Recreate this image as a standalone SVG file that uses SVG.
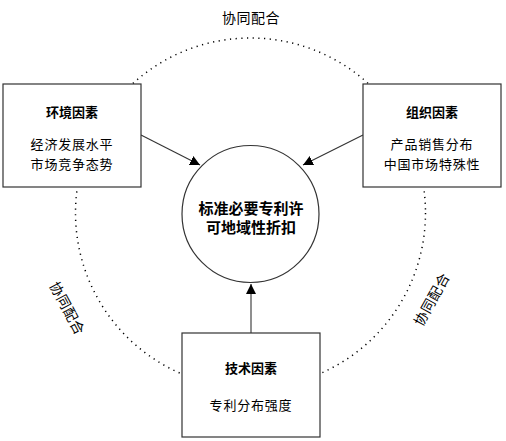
<svg xmlns="http://www.w3.org/2000/svg" width="506" height="441" viewBox="0 0 506 441">
<style>
text{font-family:"Noto Sans CJK SC","Liberation Sans",sans-serif;fill:#000;text-anchor:middle;dominant-baseline:central}
.t{font-size:13px;font-weight:bold}
.b{font-size:13px;letter-spacing:0.8px}
.c{font-size:15px;font-weight:bold}
.l{font-size:14px;letter-spacing:0.5px}
.box{fill:#fff;stroke:#333;stroke-width:1.2}
.con{stroke:#333;stroke-width:1.1;fill:none;marker-end:url(#ah)}
</style>
<defs>
<marker id="ah" viewBox="0 0 10 10" refX="10" refY="5" markerWidth="10" markerHeight="10" markerUnits="userSpaceOnUse" orient="auto">
<path d="M0,0 L10,5 L0,10 z" fill="#000"/>
</marker>
</defs>
<rect width="506" height="441" fill="#fff"/>
<g id="synergy">
<circle cx="250.5" cy="213" r="175" fill="none" stroke="#000" stroke-width="1.5" stroke-dasharray="1.2 4.5"/>
<text class="l" x="251" y="17">协同配合</text>
<text class="l" transform="translate(68,308) rotate(62)">协同配合</text>
<text class="l" transform="translate(431,299) rotate(-61)">协同配合</text>
</g>
<g id="connectors">
<line class="con" x1="141" y1="135" x2="200" y2="165"/>
<line class="con" x1="363" y1="135" x2="303" y2="165"/>
<line class="con" x1="251" y1="333" x2="251" y2="284"/>
</g>
<g id="center">
<circle cx="250.5" cy="214" r="68.5" fill="#fff" stroke="#333" stroke-width="1.2"/>
<text class="c" x="251" y="207">标准必要专利许</text>
<text class="c" x="251" y="226">可地域性折扣</text>
</g>
<g id="env">
<rect class="box" x="3" y="84" width="138" height="103"/>
<text class="t" x="72" y="111">环境因素</text>
<text class="b" x="72" y="143">经济发展水平</text>
<text class="b" x="72" y="163">市场竞争态势</text>
</g>
<g id="org">
<rect class="box" x="363" y="84" width="138" height="103"/>
<text class="t" x="432" y="111">组织因素</text>
<text class="b" x="432" y="143">产品销售分布</text>
<text class="b" x="432" y="163">中国市场特殊性</text>
</g>
<g id="tech">
<rect class="box" x="182" y="333" width="138" height="104"/>
<text class="t" x="251" y="367">技术因素</text>
<text class="b" x="251" y="404">专利分布强度</text>
</g>
</svg>
